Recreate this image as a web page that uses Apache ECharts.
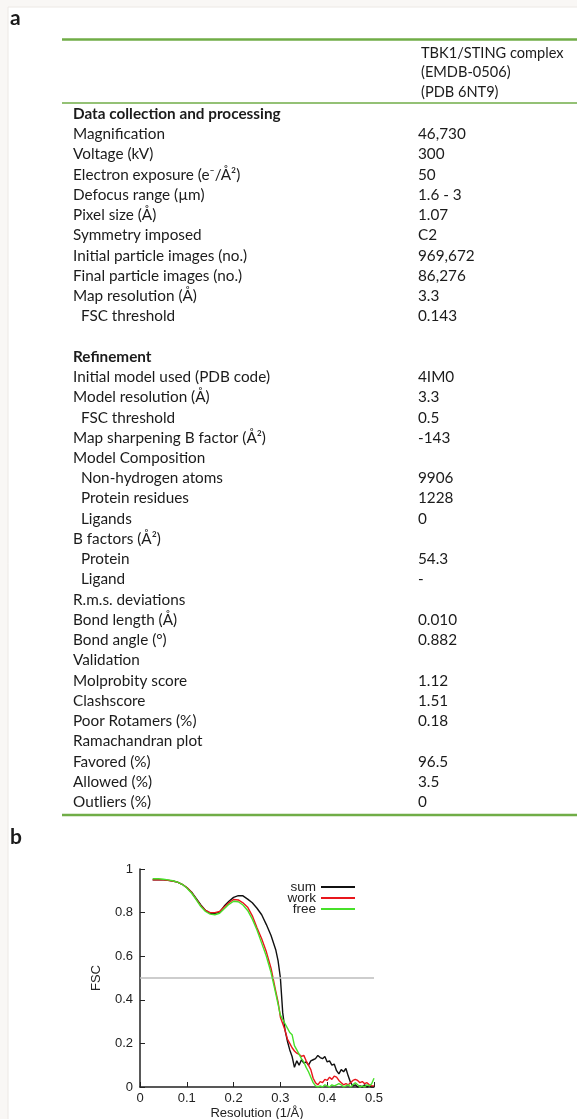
<!DOCTYPE html>
<html>
<head>
<meta charset="utf-8">
<script src="https://cdn.jsdelivr.net/npm/echarts@6.0.0/dist/echarts.min.js"></script>
<style>
  html, body { margin: 0; padding: 0; background: #fff; }
  #main { width: 577px; height: 1119px; }
</style>
</head>
<body>
<div id="main"></div>
<script>
// table (panel a)
const headerLines = ['TBK1/STING complex', '(EMDB-0506)', '(PDB 6NT9)'];

const rowLabels = [
  'Data collection and processing', 'Magnification', 'Voltage (kV)', 'Electron exposure (e\u207B/\u00C5\u00B2)',
  'Defocus range (\u00B5m)', 'Pixel size (\u00C5)', 'Symmetry imposed', 'Initial particle images (no.)',
  'Final particle images (no.)', 'Map resolution (\u00C5)', 'FSC threshold', '',
  'Refinement', 'Initial model used (PDB code)', 'Model resolution (\u00C5)', 'FSC threshold',
  'Map sharpening B factor (\u00C5\u00B2)', 'Model Composition', 'Non-hydrogen atoms', 'Protein residues',
  'Ligands', 'B factors (\u00C5\u00B2)', 'Protein', 'Ligand', 'R.m.s. deviations', 'Bond length (\u00C5)',
  'Bond angle (\u00B0)', 'Validation', 'Molprobity score', 'Clashscore', 'Poor Rotamers (%)',
  'Ramachandran plot', 'Favored (%)', 'Allowed (%)', 'Outliers (%)'
];
const rowValues = [
  '', '46,730', '300', '50', '1.6 - 3', '1.07', 'C2', '969,672', '86,276', '3.3', '0.143', '',
  '', '4IM0', '3.3', '0.5', '-143', '', '9906', '1228', '0', '', '54.3', '-', '', '0.010',
  '0.882', '', '1.12', '1.51', '0.18', '', '96.5', '3.5', '0'
];
// 'head' = bold section title, 'sub' = indented item
const rowKinds = [
  'head', '', '', '', '', '', '', '', '', '', 'sub', '',
  'head', '', '', 'sub', '', '', 'sub', 'sub', 'sub', '', 'sub', 'sub', '', '',
  '', '', '', '', '', '', '', '', ''
];

// FSC curves (panel b)
const resolution = [
  0.027, 0.04, 0.05, 0.06, 0.07, 0.08, 0.09, 0.10, 0.11, 0.12, 0.13, 0.14, 0.15, 0.16, 0.17,
  0.18, 0.19, 0.20, 0.21, 0.22, 0.23, 0.24, 0.25, 0.26, 0.27, 0.28, 0.29,
  0.295, 0.30, 0.305, 0.31, 0.315, 0.32, 0.325, 0.33, 0.335, 0.34, 0.345, 0.35, 0.355, 0.36,
  0.365, 0.37, 0.375, 0.38, 0.385, 0.39, 0.395, 0.40, 0.405, 0.41, 0.415, 0.42, 0.425, 0.43,
  0.435, 0.44, 0.445, 0.45, 0.455, 0.46, 0.465, 0.47, 0.475, 0.48, 0.485, 0.49, 0.495, 0.50
];
const fscSum = [
  0.95, 0.95, 0.95, 0.948, 0.945, 0.94, 0.93, 0.915, 0.895, 0.865, 0.835, 0.81, 0.797, 0.795, 0.802,
  0.83, 0.852, 0.87, 0.878, 0.877, 0.862, 0.845, 0.82, 0.79, 0.745, 0.695, 0.63,
  0.58, 0.50, 0.34, 0.26, 0.21, 0.17, 0.14, 0.09, 0.12, 0.10, 0.125, 0.11, 0.115, 0.10,
  0.12, 0.125, 0.13, 0.145, 0.135, 0.13, 0.14, 0.115, 0.12, 0.10, 0.105, 0.075, 0.06, 0.08,
  0.07, 0.085, 0.05, 0.02, 0.005, 0.01, 0.0, 0.005, 0.0, 0.01, 0.0, 0.005, 0.0, 0.0
];
const fscWork = [
  0.95, 0.95, 0.95, 0.948, 0.945, 0.94, 0.93, 0.915, 0.893, 0.862, 0.832, 0.81, 0.80, 0.80, 0.805,
  0.826, 0.845, 0.86, 0.858, 0.845, 0.825, 0.785, 0.73, 0.68, 0.62, 0.545, 0.44,
  0.39, 0.32, 0.29, 0.26, 0.22, 0.20, 0.18, 0.165, 0.155, 0.15, 0.14, 0.145, 0.12, 0.10,
  0.08, 0.04, 0.02, 0.01, 0.025, 0.02, 0.035, 0.03, 0.045, 0.035, 0.05, 0.045, 0.03, 0.02,
  0.01, 0.015, 0.01, 0.02, 0.03, 0.035, 0.03, 0.02, 0.025, 0.015, 0.02, 0.01, 0.005, 0.005
];
const fscFree = [
  0.955, 0.955, 0.953, 0.95, 0.946, 0.94, 0.93, 0.913, 0.89, 0.86, 0.828, 0.805, 0.793, 0.79, 0.797,
  0.818, 0.838, 0.852, 0.85, 0.835, 0.81, 0.77, 0.72, 0.66, 0.60, 0.525, 0.43,
  0.38, 0.33, 0.31, 0.29, 0.27, 0.25, 0.24, 0.19, 0.17, 0.15, 0.13, 0.115, 0.09, 0.07,
  0.045, 0.02, 0.005, 0.0, 0.005, 0.0, 0.01, 0.005, 0.0, 0.01, 0.005, 0.01, 0.015, 0.01,
  0.0, 0.005, 0.01, 0.0, 0.01, 0.02, 0.01, 0.0, 0.005, 0.0, 0.01, 0.005, 0.015, 0.04
];
const thresholdFsc = 0.5;

const seriesNames = ['sum', 'work', 'free'];
const seriesColors = ['#111111', '#e8161c', '#47e029'];

const tableFont = 'Lato, "Noto Sans", sans-serif';
const textColor = '#1b1b1b';
const ruleColor = '#70ad47';
const plotFont = 'Liberation Sans';

const chart = echarts.init(document.getElementById('main'), null, { renderer: 'canvas' });

function textEl(str, x, y, opts) {
  opts = opts || {};
  return {
    type: 'text',
    silent: true,
    style: {
      text: str,
      x: x,
      y: y,
      fill: opts.color || textColor,
      font: (opts.bold ? 'bold ' : '') + (opts.size || 15.3) + 'px ' + (opts.family || tableFont),
      align: opts.align || 'left',
      textAlign: opts.align || 'left',
      verticalAlign: 'middle',
      textVerticalAlign: 'middle'
    }
  };
}

function ruleEl(y, width) {
  return {
    type: 'line',
    silent: true,
    shape: { x1: 62, y1: y, x2: 577, y2: y },
    style: { stroke: ruleColor, lineWidth: width }
  };
}

const graphics = [];
// faint page frame
graphics.push({ type: 'rect', silent: true, z: -10, shape: { x: 0, y: 0, width: 577, height: 1119 }, style: { fill: '#f9f7f5' } });
graphics.push({ type: 'rect', silent: true, z: -9, shape: { x: 8, y: 7, width: 570, height: 1113 }, style: { fill: '#ffffff', stroke: '#ece8e4', lineWidth: 1 } });

graphics.push(textEl('a', 10, 18, { bold: true, size: 21 }));
graphics.push(textEl('b', 10, 837, { bold: true, size: 21 }));

graphics.push(ruleEl(39.5, 2.5));
graphics.push(ruleEl(103, 1.5));
graphics.push(ruleEl(815, 2.5));

headerLines.forEach((s, i) => {
  graphics.push(textEl(s, 421, 53 + i * 19.5, { size: 14.6 }));
});

rowLabels.forEach((label, i) => {
  const y = 114 + i * 20.24;
  const kind = rowKinds[i];
  if (label) {
    graphics.push(textEl(label, kind === 'sub' ? 81 : 73, y, { bold: kind === 'head' }));
  }
  if (rowValues[i]) {
    graphics.push(textEl(rowValues[i], 418, y));
  }
});

const fscValues = [fscSum, fscWork, fscFree];

const series = seriesNames.map((name, k) => ({
  name: name,
  type: 'line',
  data: resolution.map((r, i) => [r, fscValues[k][i]]),
  showSymbol: false,
  symbol: 'none',
  smooth: false,
  lineStyle: { color: seriesColors[k], width: 1.4 },
  itemStyle: { color: seriesColors[k] },
  z: 3 + k
}));

series.push({
  name: 'threshold',
  type: 'line',
  data: [],
  markLine: {
    silent: true,
    symbol: 'none',
    label: { show: false },
    lineStyle: { color: '#bdbdbd', width: 1.5, type: 'solid' },
    data: [{ yAxis: thresholdFsc }]
  },
  z: 1
});

const axisColor = '#222222';

const option = {
  animation: false,
  backgroundColor: '#ffffff',
  graphic: { elements: graphics },
  grid: {
    left: 140,
    top: 869,
    width: 234,
    height: 218,
    containLabel: false,
    outerBoundsMode: 'none'
  },
  legend: {
    data: seriesNames,
    orient: 'vertical',
    align: 'right',
    right: 216,
    top: 875,
    itemWidth: 34,
    itemHeight: 10,
    itemGap: -3,
    itemStyle: { opacity: 0 },
    textStyle: { fontFamily: plotFont, fontSize: 13.5, color: axisColor }
  },
  xAxis: {
    type: 'value',
    min: 0,
    max: 0.5,
    interval: 0.1,
    name: 'Resolution (1/\u00C5)',
    nameLocation: 'middle',
    nameGap: 20,
    nameTextStyle: { fontFamily: plotFont, fontSize: 13, color: axisColor },
    axisLine: { show: true, onZero: false, lineStyle: { color: axisColor, width: 1.5 } },
    axisTick: { show: true, inside: true, length: 5, lineStyle: { color: axisColor, width: 1 } },
    axisLabel: { fontFamily: plotFont, fontSize: 13, color: axisColor, margin: 5 },
    splitLine: { show: false }
  },
  yAxis: {
    type: 'value',
    min: 0,
    max: 1,
    interval: 0.2,
    name: 'FSC',
    nameLocation: 'middle',
    nameGap: 37,
    nameTextStyle: { fontFamily: plotFont, fontSize: 13, color: axisColor },
    axisLine: { show: true, lineStyle: { color: axisColor, width: 1.5 } },
    axisTick: { show: true, inside: true, length: 5, lineStyle: { color: axisColor, width: 1 } },
    axisLabel: { fontFamily: plotFont, fontSize: 13, color: axisColor, margin: 7 },
    splitLine: { show: false }
  },
  series: series
};

chart.setOption(option);
</script>
</body>
</html>
